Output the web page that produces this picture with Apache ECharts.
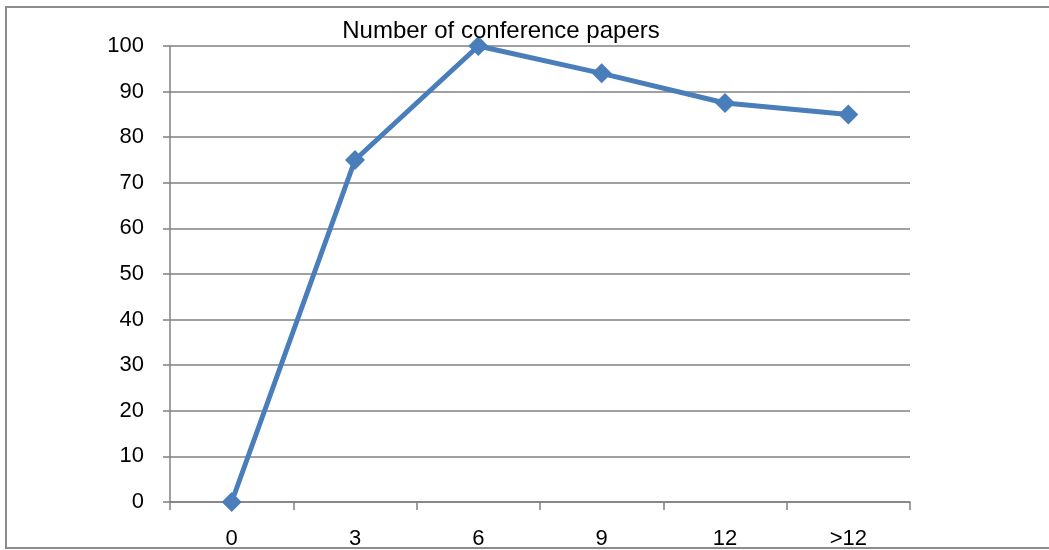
<!DOCTYPE html>
<html>
<head>
<meta charset="utf-8">
<script src="https://cdn.jsdelivr.net/npm/echarts@6/dist/echarts.min.js"></script>
<style>
  html, body { margin: 0; padding: 0; background: #fff; }
  #chart { width: 1049px; height: 550px; }
</style>
</head>
<body>
<div id="chart"></div>
<script>
// Papers per interval
const categories = ['0', '3', '6', '9', '12', '>12'];
const paperCounts = [0, 75, 100, 94, 87.5, 85];
const yTicks = { min: 0, max: 100, interval: 10 };
const titleText = 'Number of conference papers';

const font = '"Liberation Sans", Arial, sans-serif';
const chart = echarts.init(document.getElementById('chart'), null, { renderer: 'canvas' });

chart.setOption({
  animation: false,
  backgroundColor: '#ffffff',
  title: {
    text: titleText,
    left: 496,
    top: 14,
    textAlign: 'center',
    textStyle: { fontFamily: font, fontSize: 24, fontWeight: 'normal', color: '#000' }
  },
  graphic: [{
    type: 'rect',
    shape: { x: 6, y: 7, width: 1100, height: 541 },
    style: { fill: 'none', stroke: '#8c8c8c', lineWidth: 2 },
    silent: true
  }],
  grid: { left: 170, right: 139, top: 46, bottom: 45 },
  xAxis: {
    type: 'category',
    data: categories,
    boundaryGap: true,
    axisLine: { lineStyle: { color: '#808080', width: 1.5 } },
    axisTick: { show: true, length: 8, alignWithLabel: false, lineStyle: { color: '#808080', width: 1.5 } },
    axisLabel: { fontFamily: font, fontSize: 22, color: '#000', margin: 26 },
    splitLine: { show: false }
  },
  yAxis: {
    type: 'value',
    min: yTicks.min,
    max: yTicks.max,
    interval: yTicks.interval,
    axisLine: { show: true, lineStyle: { color: '#808080', width: 1.5 } },
    axisTick: { show: true, length: 7, lineStyle: { color: '#808080', width: 1.5 } },
    axisLabel: { fontFamily: font, fontSize: 22, color: '#000', margin: 26 },
    splitLine: { show: true, lineStyle: { color: '#808080', width: 1.5 } }
  },
  series: [{
    type: 'line',
    data: paperCounts,
    symbol: 'diamond',
    symbolSize: 20,
    showAllSymbol: true,
    lineStyle: { color: '#4a7ebb', width: 5 },
    itemStyle: { color: '#4a7ebb' },
    z: 5
  }]
});
</script>
</body>
</html>
